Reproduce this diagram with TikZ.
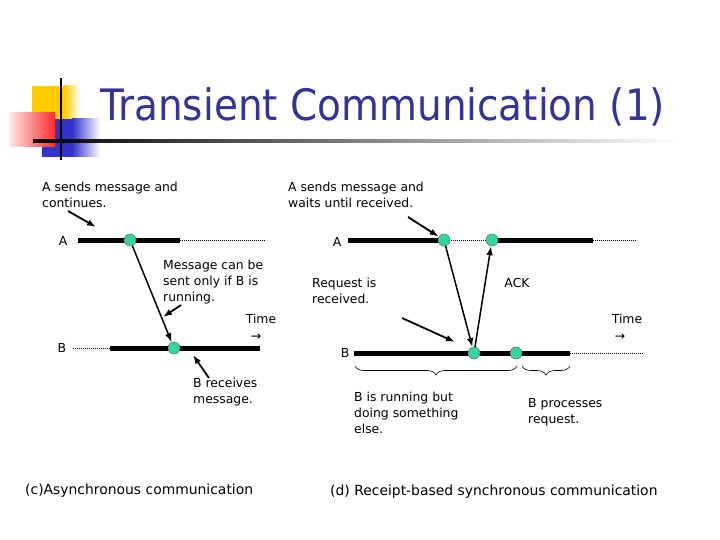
\documentclass[tikz,border=0pt]{standalone}
\usepackage{fontspec}
\setmainfont{DejaVu Sans}
\newfontfamily\titlefont[FakeStretch=0.9]{DejaVu Sans}
\usetikzlibrary{arrows.meta,positioning,decorations.pathreplacing}
\definecolor{titleBlue}{HTML}{333399}
\definecolor{evtGreen}{HTML}{33D6A3}
\definecolor{decoYellow}{HTML}{FFCC00}
\definecolor{decoBlue}{HTML}{3333CC}
\definecolor{decoRed}{HTML}{FF2020}

\begin{document}
\begin{tikzpicture}[x=1pt,y=-1pt]
    \tikzset{
      tbar/.style={line width=5pt},
      tdot/.style={line width=0.6pt, dash pattern=on 0.8pt off 1.2pt},
      evt/.style={circle, draw=black!60, line width=0.5pt, fill=evtGreen, minimum size=12pt, inner sep=0pt},
      lbl/.style={font=\fontsize{12.4}{16}\selectfont, align=left, anchor=north west, inner sep=0pt},
      lbone/.style={font=\fontsize{12.4}{16}\selectfont, inner sep=0pt},
      capt/.style={font=\fontsize{13.9}{16}\selectfont, anchor=base west, inner sep=0pt},
      msg/.style={line width=1.5pt, -{Latex[length=9pt,width=6.5pt]}},
      ptr/.style={line width=1.8pt, -{Latex[length=9pt,width=6.5pt]}},
      brc/.style={line width=0.6pt, decorate, decoration={brace, mirror, amplitude=9pt}}
    }
    \useasboundingbox (0,0) rectangle (720,540);

    % Title and corner decoration
    \fill[decoYellow] (32,86) rectangle (64,119);
    \shade[left color=decoYellow, right color=white] (64,86) rectangle (80,119);
    \fill[decoBlue] (42,119) rectangle (72,157);
    \shade[left color=decoBlue, right color=white] (72,119) rectangle (100,157);
    \shade[left color=decoRed!12, right color=decoRed!95] (10,113) rectangle (55,147);
    \draw[line width=2.5pt] (61,78) -- (61,160);
    \shade[left color=black, right color=white] (33,139.5) rectangle (680,142.5);
    \node[font=\titlefont\fontsize{43.3}{50}\selectfont, text=titleBlue, anchor=base west, inner sep=0pt] (title) at (100,121) {Transient Communication (1)};

    % (c) asynchronous
    \node[lbl] (lcA) at (42,182) {A sends message and\\continues.};
    \node[lbone] (nameAc) at (63,241) {A};
    \node[lbone] (nameBc) at (62,348) {B};
    \coordinate (cA0) at (78,240);
    \coordinate (cA1) at (180,240);
    \coordinate (cA2) at (266,240);
    \coordinate (cB0) at (73,348);
    \coordinate (cB1) at (110,348);
    \coordinate (cB2) at (260,348);
    \draw[tbar] (cA0) -- (cA1);
    \draw[tdot] (cA1) -- (cA2);
    \draw[tdot] (cB0) -- (cB1);
    \draw[tbar] (cB1) -- (cB2);
    \node[evt] (cs) at (130,240) {};
    \node[evt] (cr) at (174,348) {};
    \draw[msg] (cs) -- (cr);
    \node[lbl] (lmsg) at (163,260) {Message can be\\sent only if B is\\running.};
    \node[lbone] (timeC) at (261,319) {Time};
    \node[lbone] (tarrC) at (256,337) {→};
    \node[lbl] (lrecv) at (193,378) {B receives\\message.};
    \coordinate (pcA0) at (68,211);
    \coordinate (pcA1) at (96,227);
    \coordinate (pcM0) at (181,305);
    \coordinate (pcM1) at (163,317);
    \coordinate (pcR0) at (209,378);
    \coordinate (pcR1) at (193,355);
    \draw[ptr] (pcA0) -- (pcA1);
    \draw[ptr] (pcM0) -- (pcM1);
    \draw[ptr] (pcR0) -- (pcR1);
    \node[capt] (capC) at (25,494) {(c)Asynchronous communication};

    % (d) receipt-based synchronous
    \node[lbl] (ldA) at (288,182) {A sends message and\\waits until received.};
    \node[lbone] (nameAd) at (337,242) {A};
    \node[lbone] (nameBd) at (345,353) {B};
    \coordinate (dA0) at (348,240);
    \coordinate (dA1) at (443,240);
    \coordinate (dA2) at (492,240);
    \coordinate (dA3) at (593,240);
    \coordinate (dA4) at (637,240);
    \coordinate (dB0) at (354,353);
    \coordinate (dB1) at (570,353);
    \coordinate (dB2) at (643,353);
    \draw[tbar] (dA0) -- (dA1);
    \draw[tdot] (dA1) -- (dA2);
    \draw[tbar] (dA2) -- (dA3);
    \draw[tdot] (dA3) -- (dA4);
    \draw[tbar] (dB0) -- (dB1);
    \draw[tdot] (dB1) -- (dB2);
    \node[evt] (ds) at (444,240) {};
    \node[evt] (dk) at (492,240) {};
    \node[evt] (dr) at (474,353) {};
    \node[evt] (dp) at (516,353) {};
    \draw[msg] (ds) -- (dr);
    \draw[msg] (dr) -- (dk);
    \node[lbl] (lreq) at (312,278) {Request is\\received.};
    \node[lbone] (ack) at (517,283) {ACK};
    \node[lbone] (timeD) at (627,319) {Time};
    \node[lbone] (tarrD) at (620,337) {→};
    \coordinate (pdA0) at (408,217);
    \coordinate (pdR0) at (402,318);
    \coordinate (pdR1) at (455,342);
    \draw[ptr] (pdA0) -- (ds);
    \draw[ptr] (pdR0) -- (pdR1);
    \coordinate (bw0) at (355,366);
    \coordinate (bw1) at (517,366);
    \coordinate (bp0) at (522,366);
    \coordinate (bp1) at (570,366);
    \draw[brc] (bw0) -- (bw1);
    \draw[brc] (bp0) -- (bp1);
    \node[lbl] (lbusy) at (354,392) {B is running but\\doing something\\else.};
    \node[lbl] (lproc) at (528,398) {B processes\\request.};
    \node[capt] (capD) at (330,495) {(d) Receipt-based synchronous communication};
  \end{tikzpicture}
\end{document}
